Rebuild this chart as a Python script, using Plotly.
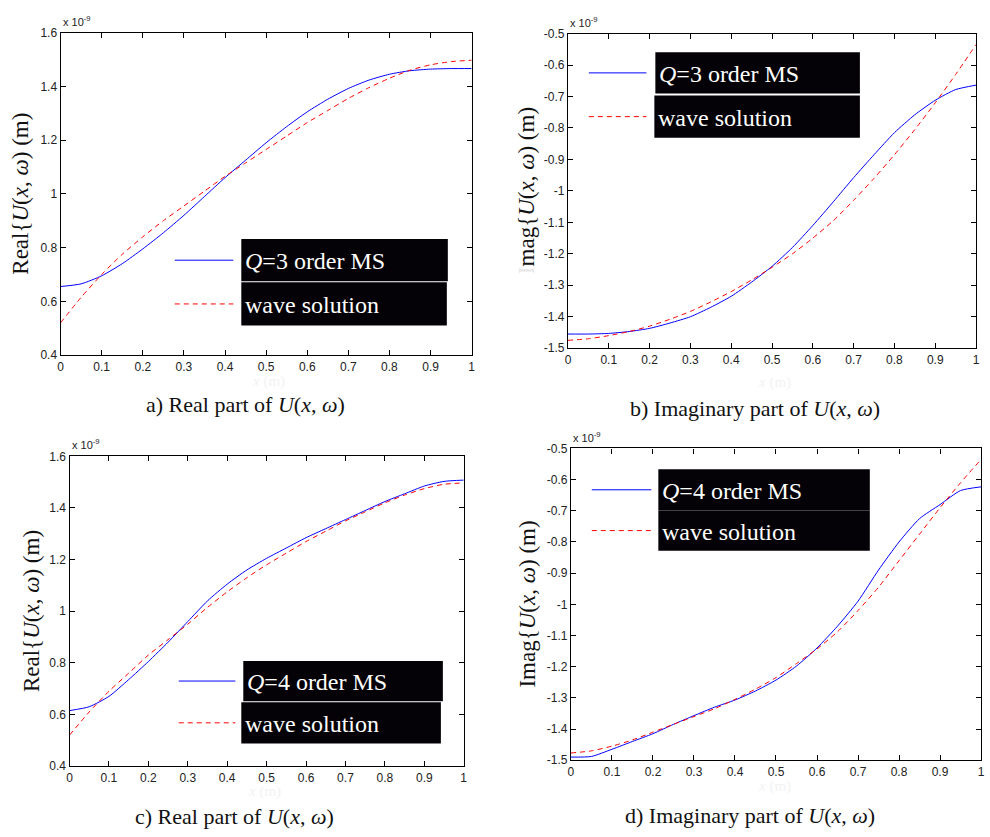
import plotly.graph_objects as go

W, H = 990, 837

# ---------------- data (values in units of 1e-9 m) ----------------
x_vals = [0.0, 0.05, 0.1, 0.15, 0.2, 0.25, 0.3, 0.35, 0.4, 0.45, 0.5,
          0.55, 0.6, 0.65, 0.7, 0.75, 0.8, 0.85, 0.9, 0.95, 1.0]

a_ms3 = [0.655, 0.665, 0.695, 0.74, 0.795, 0.855, 0.92, 0.99, 1.06, 1.125, 1.19,
         1.25, 1.305, 1.352, 1.392, 1.423, 1.445, 1.458, 1.464, 1.466, 1.466]
a_wave = [0.52, 0.615, 0.70, 0.775, 0.84, 0.90, 0.955, 1.01, 1.065, 1.115, 1.165,
          1.215, 1.265, 1.31, 1.355, 1.395, 1.43, 1.46, 1.48, 1.492, 1.497]

b_ms3 = [-1.455, -1.455, -1.453, -1.447, -1.437, -1.42, -1.40, -1.37, -1.335, -1.29, -1.24,
         -1.18, -1.11, -1.035, -0.958, -0.885, -0.815, -0.758, -0.712, -0.678, -0.664]
b_wave = [-1.475, -1.47, -1.46, -1.447, -1.43, -1.408, -1.383, -1.353, -1.32, -1.283, -1.243,
          -1.2, -1.15, -1.095, -1.03, -0.96, -0.885, -0.805, -0.72, -0.63, -0.535]

c_ms4 = [0.615, 0.63, 0.67, 0.735, 0.805, 0.88, 0.96, 1.04, 1.105, 1.16, 1.205,
         1.245, 1.285, 1.32, 1.355, 1.39, 1.425, 1.455, 1.485, 1.503, 1.508]
c_wave = [0.52, 0.61, 0.69, 0.76, 0.83, 0.89, 0.95, 1.015, 1.075, 1.13, 1.18,
          1.225, 1.27, 1.31, 1.35, 1.385, 1.42, 1.45, 1.475, 1.492, 1.497]

d_ms4 = [-1.49, -1.488, -1.465, -1.44, -1.415, -1.385, -1.357, -1.33, -1.307, -1.278, -1.243,
         -1.198, -1.14, -1.07, -0.99, -0.89, -0.80, -0.725, -0.68, -0.635, -0.623]
d_wave = [-1.477, -1.47, -1.455, -1.435, -1.41, -1.385, -1.36, -1.335, -1.305, -1.272, -1.235,
          -1.19, -1.143, -1.088, -1.02, -0.945, -0.86, -0.775, -0.69, -0.61, -0.535]

x_ticks = [0, 0.1, 0.2, 0.3, 0.4, 0.5, 0.6, 0.7, 0.8, 0.9, 1]
x_ticktext = ["0", "0.1", "0.2", "0.3", "0.4", "0.5", "0.6", "0.7", "0.8", "0.9", "1"]
real_ticks = [0.4, 0.6, 0.8, 1.0, 1.2, 1.4, 1.6]
real_ticktext = ["0.4", "0.6", "0.8", "1", "1.2", "1.4", "1.6"]
imag_ticks = [-1.5, -1.4, -1.3, -1.2, -1.1, -1.0, -0.9, -0.8, -0.7, -0.6, -0.5]
imag_ticktext = ["-1.5", "-1.4", "-1.3", "-1.2", "-1.1", "-1", "-0.9", "-0.8", "-0.7", "-0.6", "-0.5"]

legend_ms = ["<i>Q</i>=3 order MS", "<i>Q</i>=3 order MS", "<i>Q</i>=4 order MS", "<i>Q</i>=4 order MS"]
legend_wave = "wave solution"
captions = ["a) Real part of <i>U</i>(<i>x</i>, <i>ω</i>)",
            "b) Imaginary part of <i>U</i>(<i>x</i>, <i>ω</i>)",
            "c) Real part of <i>U</i>(<i>x</i>, <i>ω</i>)",
            "d) Imaginary part of <i>U</i>(<i>x</i>, <i>ω</i>)"]
ytitle_real = "Real{<i>U</i>(<i>x</i>, <i>ω</i>) (m)"
ytitle_imag = "<span style='color:#e8e8e8'>I</span>mag{<i>U</i>(<i>x</i>, <i>ω</i>) (m)"
ytitle_imag_d = "Imag{<i>U</i>(<i>x</i>, <i>ω</i>) (m)"

# ---------------- layout geometry (pixels) ----------------
def PX(v):
    return v / W

def PY(v):
    return 1 - v / H

panels = [
    dict(l=58, r=472, t=26, b=354, ms=a_ms3, wave=a_wave, kind="real",
         ytitle=ytitle_real, ytx=18,
         leg=dict(sx0=173, sx1=232, b1=(240, 448, 236, 279), b2=(240, 447, 280, 324)),
         cap=(244, 404), ghost=(267, 381)),
    dict(l=569, r=980, t=27, b=347, ms=b_ms3, wave=b_wave, kind="imag",
         ytitle=ytitle_imag, ytx=528,
         leg=dict(sx0=590, sx1=648, b1=(657, 863, 46, 88), b2=(656, 863, 90, 133)),
         cap=(757, 408), ghost=(777, 382)),
    dict(l=67, r=464, t=457, b=772, ms=c_ms4, wave=c_wave, kind="real",
         ytitle=ytitle_real, ytx=28,
         leg=dict(sx0=177, sx1=234, b1=(242, 443, 665, 706), b2=(240, 441, 707, 749)),
         cap=(233, 823), ghost=(263, 798)),
    dict(l=572, r=985, t=449, b=766, ms=d_ms4, wave=d_wave, kind="imag",
         ytitle=ytitle_imag_d, ytx=528,
         leg=dict(sx0=593, sx1=653, b1=(660, 873, 470, 512), b2=(660, 873, 512, 553)),
         cap=(752, 822), ghost=(777, 793)),
]

fig = go.Figure()
shapes = []
annotations = []
layout_axes = {}

tickfont = dict(family="Liberation Sans, Arial, sans-serif", size=12, color="#222")
serif = "Liberation Serif, Times New Roman, serif"

for i, p in enumerate(panels):
    n = i + 1
    xa = "x" if n == 1 else f"x{n}"
    ya = "y" if n == 1 else f"y{n}"
    fig.add_trace(go.Scatter(x=x_vals, y=p["ms"], mode="lines", xaxis=xa, yaxis=ya,
                             line=dict(color="#0000ff", width=1, shape="spline", smoothing=0.6),
                             showlegend=False))
    fig.add_trace(go.Scatter(x=x_vals, y=p["wave"], mode="lines", xaxis=xa, yaxis=ya,
                             line=dict(color="#ff0000", width=1, dash="5px,4px",
                                       shape="spline", smoothing=0.6),
                             showlegend=False))
    if p["kind"] == "real":
        yr, tv, tt = [0.4, 1.6], real_ticks, real_ticktext
    else:
        yr, tv, tt = [-1.5, -0.5], imag_ticks, imag_ticktext
    common = dict(showline=True, linecolor="black", linewidth=1.2, mirror="ticks",
                  ticks="inside", ticklen=5, tickcolor="black", tickwidth=1,
                  showgrid=False, zeroline=False, tickfont=tickfont)
    kx = "xaxis" if n == 1 else f"xaxis{n}"
    ky = "yaxis" if n == 1 else f"yaxis{n}"
    layout_axes[kx] = dict(domain=[PX(p["l"]), PX(p["r"])], range=[0, 1],
                           tickvals=x_ticks, ticktext=x_ticktext, anchor=ya, **common)
    layout_axes[ky] = dict(domain=[PY(p["b"]), PY(p["t"])], range=yr,
                           tickvals=tv, ticktext=tt, anchor=xa, **common)

    # exponent label
    annotations.append(dict(xref="paper", yref="paper", x=PX(p["l"]), y=PY(p["t"] - 3),
                            xanchor="left", yanchor="bottom", showarrow=False,
                            text="x 10<sup>-9</sup>",
                            font=dict(family="Liberation Sans, Arial", size=11, color="#222")))
    # y title
    annotations.append(dict(xref="paper", yref="paper", x=PX(p["ytx"]),
                            y=PY((p["t"] + p["b"]) / 2), textangle=-90,
                            xanchor="center", yanchor="middle", showarrow=False,
                            text=p["ytitle"],
                            font=dict(family=serif, size=23, color="#111")))
    # ghost x title
    annotations.append(dict(xref="paper", yref="paper", x=PX(p["ghost"][0]), y=PY(p["ghost"][1]),
                            xanchor="center", yanchor="middle", showarrow=False,
                            text="<i>x</i> (m)",
                            font=dict(family=serif, size=15, color="#f2f2f2")))
    # caption
    annotations.append(dict(xref="paper", yref="paper", x=PX(p["cap"][0]), y=PY(p["cap"][1]),
                            xanchor="center", yanchor="middle", showarrow=False,
                            text=captions[i],
                            font=dict(family=serif, size=22, color="#111")))
    # legend
    lg = p["leg"]
    for (bx0, bx1, by0, by1), txt, col, dash in (
            (lg["b1"], legend_ms[i], "#0000ff", "solid"),
            (lg["b2"], legend_wave, "#ff0000", "dash")):
        shapes.append(dict(type="rect", xref="paper", yref="paper",
                           x0=PX(bx0), x1=PX(bx1), y0=PY(by1), y1=PY(by0),
                           fillcolor="#040206", line=dict(width=0), layer="above"))
        ym = (by0 + by1) / 2
        shapes.append(dict(type="line", xref="paper", yref="paper",
                           x0=PX(lg["sx0"]), x1=PX(lg["sx1"]), y0=PY(ym), y1=PY(ym),
                           line=dict(color=col, width=1, dash=("5px,4px" if dash == "dash" else "solid")),
                           layer="above"))
        annotations.append(dict(xref="paper", yref="paper", x=PX(bx0 + 2), y=PY(ym + 1),
                                xanchor="left", yanchor="middle", showarrow=False,
                                text=txt, font=dict(family=serif, size=24, color="white")))

fig.update_layout(width=W, height=H, margin=dict(l=0, r=0, t=0, b=0),
                  paper_bgcolor="white", plot_bgcolor="white",
                  shapes=shapes, annotations=annotations, **layout_axes)

fig.write_html("out.html")
